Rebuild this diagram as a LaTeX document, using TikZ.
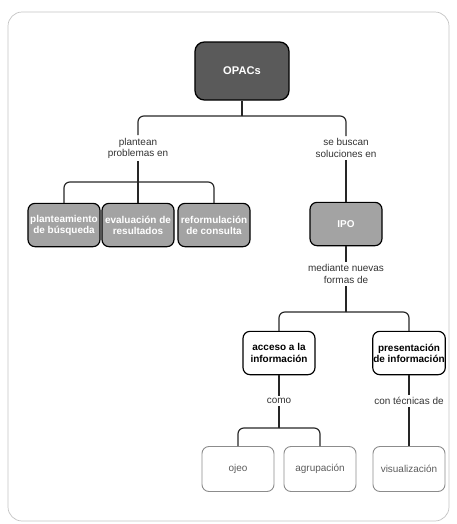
\documentclass[tikz,border=0pt]{standalone}
\usepackage{fontspec}
\setmainfont{Liberation Sans}
\usepackage{tikz}

\definecolor{darkbox}{HTML}{5A5A5A}
\definecolor{midbox}{HTML}{A3A3A3}
\definecolor{leafline}{HTML}{8C8C8C}
\definecolor{leaftext}{HTML}{5C5C5C}
\definecolor{frameline}{HTML}{C4C4C4}

\begin{document}
\begin{tikzpicture}[x=0.03cm,y=-0.03cm,
        every node/.style={font=\fontsize{8.5}{9.5}\selectfont,align=center},
        topbox/.style={rectangle,rounded corners=8pt,draw=black,line width=1.1pt,fill=darkbox,text=white,font=\fontsize{9.5}{11}\selectfont\bfseries,minimum width=2.82cm,minimum height=1.74cm},
        graybox/.style={rectangle,rounded corners=6pt,draw=black,line width=1pt,fill=midbox,text=white,font=\fontsize{8.5}{9.5}\selectfont\bfseries,inner sep=0.5pt,minimum width=2.16cm,minimum height=1.3cm},
        whitebox/.style={rectangle,rounded corners=6pt,draw=black,line width=1pt,fill=white,text=black,font=\fontsize{8.5}{9.5}\selectfont\bfseries,inner sep=0.5pt,minimum width=2.16cm,minimum height=1.3cm},
        leafbox/.style={rectangle,rounded corners=6pt,draw=leafline,line width=0.8pt,text=leaftext,inner sep=1pt,minimum width=2.16cm,minimum height=1.35cm},
        lbl/.style={inner sep=2pt,text=black!80},
        conn/.style={draw=black!85,line width=1pt,rounded corners=5pt}]
                \useasboundingbox (0,0) rectangle (457,524);
                \draw[frameline,line width=0.6pt,rounded corners=12pt] (8,12) rectangle (449,521);

                \node[topbox] (OPACs) at (242,71){OPACs};
                \node[lbl] (plantean) at (138,148){plantean\\problemas en};
                \node[lbl] (buscan) at (346,148){se buscan\\soluciones en};
                \node[graybox] (plant) at (64,225){planteamiento\\de búsqueda};
                \node[graybox] (eval) at (138,225){evaluación de\\resultados};
                \node[graybox] (reform) at (214,225){reformulación\\de consulta};
                \node[graybox] (IPO) at (346,224){IPO};
                \node[lbl] (mediante) at (346,274){mediante nuevas\\formas de};
                \node[whitebox] (acceso) at (279,353){acceso a la\\información};
                \node[whitebox] (present) at (409,353){presentación\\de información};
                \node[lbl] (como) at (279,401){como};
                \node[lbl] (tecnicas) at (409,401){con técnicas de};
                \node[leafbox] (ojeo) at (238,469){ojeo};
                \node[leafbox] (agrup) at (320,469){agrupación};
                \node[leafbox] (visual) at (409,469){visualización};

                \coordinate (j1) at (242,116);
                \coordinate (j2) at (138,182);
                \coordinate (j3) at (346,312);
                \coordinate (j4) at (279,428);

                \draw[conn] (OPACs) -- (j1);
                \draw[conn] (j1) -| (plantean);
                \draw[conn] (j1) -| (buscan);
                \draw[conn] (plantean) -- (eval);
                \draw[conn] (j2) -| (plant);
                \draw[conn] (j2) -| (reform);
                \draw[conn] (buscan) -- (IPO);
                \draw[conn] (IPO) -- (mediante);
                \draw[conn] (mediante) -- (j3);
                \draw[conn] (j3) -| (acceso);
                \draw[conn] (j3) -| (present);
                \draw[conn] (acceso) -- (como);
                \draw[conn] (como) -- (j4);
                \draw[conn] (j4) -| (ojeo);
                \draw[conn] (j4) -| (agrup);
                \draw[conn] (present) -- (tecnicas);
                \draw[conn] (tecnicas) -- (visual);
        \end{tikzpicture}
\end{document}
